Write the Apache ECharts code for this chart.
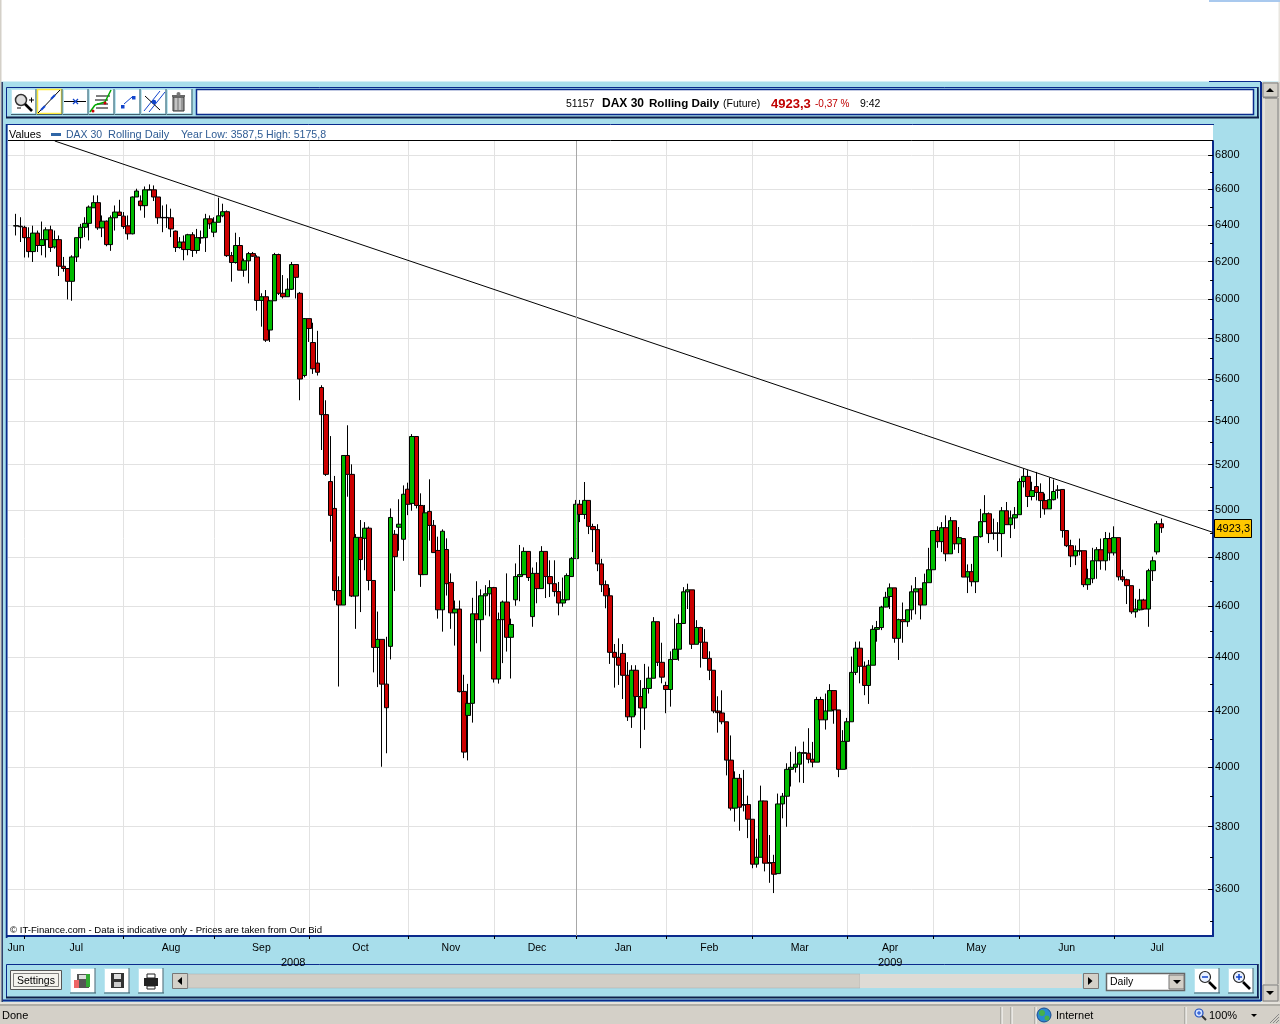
<!DOCTYPE html>
<html><head><meta charset="utf-8"><title>DAX 30 Rolling Daily</title>
<style>html,body{margin:0;padding:0;background:#a8deeb;overflow:hidden}#c{width:1280px;height:1024px}</style>
<script src="https://cdn.jsdelivr.net/npm/echarts@6/dist/echarts.min.js"></script>
</head><body><div id="c"></div>
<script>
// each row: open, close, low, high
const jun2008=[[6394,6396,6342,6462],[6393,6390,6306,6443]];
const jul2008=[[6387,6330,6222,6396],[6330,6254,6222,6387],[6254,6355,6198,6396],[6355,6287,6252,6369],[6287,6319,6234,6419],[6319,6373,6222,6387],[6373,6276,6252,6396],[6279,6319,6270,6369],[6319,6175,6123,6342],[6175,6163,6146,6225],[6163,6095,6000,6163],[6095,6225,5993,6234],[6225,6330,6198,6330],[6330,6387,6270,6406],[6387,6409,6333,6443],[6409,6500,6315,6509],[6496,6525,6496,6566],[6525,6384,6373,6566],[6384,6421,6333,6453],[6421,6292,6283,6425],[6292,6440,6258,6453],[6440,6472,6369,6509],[6472,6453,6453,6541]];
const aug2008=[[6449,6391,6378,6472],[6395,6351,6319,6453],[6351,6557,6348,6560],[6557,6591,6557,6604],[6534,6508,6481,6566],[6508,6598,6440,6617],[6598,6597,6597,6629],[6598,6557,6534,6623],[6557,6440,6406,6557],[6442,6440,6360,6509],[6442,6440,6384,6515],[6440,6378,6333,6491],[6366,6276,6252,6369],[6276,6306,6270,6333],[6306,6265,6207,6342],[6265,6346,6234,6351],[6346,6260,6225,6360],[6260,6330,6243,6378],[6330,6328,6297,6369],[6330,6434,6252,6462],[6434,6406,6378,6453]];
const sep2008=[[6360,6415,6333,6443],[6415,6451,6415,6553],[6451,6474,6443,6519],[6474,6232,6225,6481],[6232,6195,6093,6252],[6195,6287,6189,6357],[6287,6154,6154,6333],[6154,6204,6119,6216],[6204,6243,6084,6252],[6243,6229,6225,6252],[6225,5995,5942,6234],[5995,6014,5860,6032],[6014,5792,5783,6049],[5843,5993,5783,5997],[5993,6238,5993,6247],[6238,6032,6023,6243],[6032,6014,6005,6128],[6014,6053,6014,6111],[6053,6184,6049,6198],[6184,6116,6005,6184],[6032,5600,5498,6039],[5617,5901,5608,5904]];
const oct2008=[[5901,5851,5783,5901],[5780,5650,5625,5880],[5678,5633,5617,5839],[5559,5430,5266,5570],[5430,5156,5149,5498],[5124,4976,4864,5330],[5006,4662,4622,5149],[4662,4604,4290,4720],[4604,5241,4604,5241],[5241,5156,5057,5380],[5156,4640,4636,5201],[4640,4882,4510,4896],[4882,4789,4576,4956],[4878,4921,4745,4947],[4921,4703,4663,4928],[4703,4438,4343,4703],[4438,4469,4288,4578],[4469,4299,4002,4469],[4299,4212,4049,4479],[4442,4967,4392,5006],[4895,4801,4660,4913],[4925,4938,4826,5046],[4874,5068,4784,5107]];
const nov2008=[[5090,5024,4977,5119],[5028,5328,4996,5339],[5328,5019,5006,5328],[5019,4727,4677,5072],[4727,4987,4727,5021],[4993,4933,4868,5134],[4933,4818,4817,4956],[4827,4585,4550,4885],[4585,4908,4499,4916],[4831,4690,4642,4878],[4695,4573,4510,4732],[4573,4588,4445,4622],[4588,4271,4268,4622],[4272,4053,4032,4334],[4184,4228,4024,4300],[4228,4569,4158,4633],[4569,4546,4454,4700],[4546,4641,4422,4667],[4641,4649,4563,4684],[4649,4674,4559,4704]];
const dec2008=[[4674,4318,4305,4677],[4318,4546,4301,4574],[4546,4616,4378,4622],[4616,4477,4422,4732],[4477,4527,4320,4550],[4625,4719,4601,4773],[4719,4727,4619,4850],[4727,4823,4725,4840],[4823,4715,4701,4823],[4558,4732,4518,4756],[4732,4670,4611,4778],[4670,4823,4670,4845],[4823,4719,4632,4823],[4719,4690,4636,4786],[4690,4658,4638,4786],[4658,4612,4563,4697],[4612,4625,4597,4715],[4625,4723,4622,4732],[4719,4793,4718,4800]];
const jan2009=[[4793,5024,4793,5043],[5024,4980,4947,5043],[4980,5041,4960,5122],[5041,4929,4896,5041],[4928,4915,4820,4940],[4915,4771,4741,4938],[4771,4686,4656,4792],[4686,4641,4591,4703],[4641,4419,4375,4673],[4419,4400,4286,4451],[4400,4370,4296,4473],[4415,4332,4244,4451],[4332,4179,4164,4382],[4179,4351,4139,4370],[4351,4253,4184,4370],[4253,4211,4067,4314],[4211,4283,4132,4375],[4283,4321,4264,4365],[4321,4538,4321,4556],[4538,4381,4367,4538],[4381,4325,4302,4456]];
const feb2009=[[4294,4279,4192,4308],[4279,4392,4216,4423],[4392,4431,4392,4550],[4431,4531,4387,4567],[4531,4657,4531,4676],[4657,4665,4588,4690],[4665,4450,4432,4665],[4450,4515,4450,4544],[4515,4458,4361,4518],[4458,4396,4396,4509],[4396,4351,4314,4423],[4351,4200,4192,4351],[4200,4194,4122,4254],[4193,4161,4152,4276],[4161,4025,3972,4161],[4025,3861,3853,4112],[3861,3962,3816,3986],[3962,3864,3786,3977],[3873,3871,3850,3991],[3873,3824,3762,3903]];
const mar2009=[[3824,3678,3665,3824],[3678,3700,3667,3760],[3700,3885,3700,3937],[3885,3681,3655,3885],[3683,3681,3619,3772],[3683,3646,3587,3708],[3648,3875,3648,3910],[3875,3901,3827,3912],[3901,3993,3799,4014],[3993,4000,3934,4054],[4000,4011,3982,4073],[4011,4051,3948,4055],[4051,4049,3946,4090],[4049,4028,4014,4138],[4028,4018,4000,4089],[4018,4242,4018,4252],[4242,4168,4168,4252],[4168,4200,4133,4264],[4200,4275,4200,4299],[4275,4204,4154,4275],[4204,3993,3966,4204],[3993,4091,3993,4131]];
const apr2009=[[4091,4161,3993,4175],[4161,4343,4161,4403],[4343,4435,4333,4460],[4435,4366,4302,4461],[4366,4294,4258,4384],[4294,4370,4226,4390],[4370,4508,4370,4524],[4508,4515,4460,4541],[4515,4596,4505,4601],[4596,4635,4595,4657],[4638,4673,4588,4691],[4673,4473,4456,4673],[4473,4546,4390,4550],[4546,4538,4456,4614],[4538,4585,4518,4585],[4585,4657,4546,4683],[4657,4669,4567,4717],[4669,4604,4547,4673],[4604,4694,4604,4731],[4694,4747,4694,4838]];
const may2009=[[4747,4911,4747,4912],[4911,4864,4838,4929],[4864,4923,4820,4947],[4923,4813,4782,4976],[4813,4953,4813,4969],[4953,4855,4830,4953],[4855,4881,4816,4926],[4877,4717,4717,4877],[4717,4739,4652,4769],[4739,4698,4679,4771],[4698,4885,4652,4887],[4885,4949,4881,5004],[4949,4983,4949,5064],[4983,4898,4858,4989],[4901,4899,4872,4962],[4901,4899,4824,4947],[4898,4996,4799,5012],[4996,4936,4936,5034],[4936,4965,4879,4997],[4965,4979,4918,5012]];
const jun2009=[[4979,5124,4979,5138],[5124,5147,5098,5182],[5147,5058,5012,5175],[5058,5084,5041,5123],[5102,5076,5041,5167],[5076,5040,4965,5116],[5040,5004,4979,5071],[5004,5044,5004,5142],[5044,5080,5041,5133],[5087,5085,5049,5108],[5089,4911,4881,5089],[4911,4847,4841,4911],[4847,4804,4758,4872],[4804,4826,4766,4848],[4826,4824,4806,4877],[4826,4686,4676,4826],[4686,4710,4665,4751],[4710,4784,4692,4838],[4784,4830,4710,4841],[4830,4784,4747,4877],[4784,4877,4744,4905],[4877,4817,4785,4902]];
const jul2009=[[4817,4881,4806,4929],[4881,4718,4703,4881],[4718,4706,4697,4747],[4706,4682,4608,4710],[4682,4577,4569,4682],[4577,4588,4554,4629],[4585,4624,4582,4669],[4624,4588,4585,4629],[4588,4743,4518,4751],[4743,4784,4701,4801],[4821,4940,4810,4952],[4940,4923,4901,4962]];
const months=[jun2008,jul2008,aug2008,sep2008,oct2008,nov2008,dec2008,jan2009,feb2009,mar2009,apr2009,may2009,jun2009,jul2009];
const monthNames=['Jun','Jul','Aug','Sep','Oct','Nov','Dec','Jan','Feb','Mar','Apr','May','Jun','Jul'];
const monthLabelSlots=[2,16,38,59,82,103,123,143,163,184,205,225,246,267];
const priceTicks=[6800,6600,6400,6200,6000,5800,5600,5400,5200,5000,4800,4600,4400,4200,4000,3800,3600];
const minorTicks=[6700,6500,6300,6100,5900,5700,5500,5300,5100,4900,4700,4500,4300,4100,3900,3700,3500];
const trendStart=[11,6883];
const trendEnd=[280,4903];
const cursorSlot=132;
const yMin=3456,yMax=6883;

const LEAD=2,SLOTS=281;
const candles=[];const gridSlots=new Set();
months.forEach((m,i)=>{ if(i>0) gridSlots.add(LEAD+candles.length); m.forEach(r=>candles.push(r)); });
const seriesData=[];
for(let i=0;i<SLOTS;i++){ const c=candles[i-LEAD]; seriesData.push(c?c:'-'); }
const categories=seriesData.map((_,i)=>String(i));
const labelMap={}; monthLabelSlots.forEach((s,i)=>labelMap[s]=monthNames[i]);

const NAVY='#0a2a8c',BEIGE='#d4d0c8',SKY='#a8deeb';
const g=[];let Z=60;
const FONT='"Liberation Sans",Arial,sans-serif';
function R(x,y,w,h,fill,stroke,lw){g.push({type:'rect',silent:true,z:Z,shape:{x,y,width:w,height:h},style:{fill:fill||'transparent',stroke:stroke||null,lineWidth:lw||1}});}
function L(x1,y1,x2,y2,c,lw){g.push({type:'line',silent:true,z:Z,shape:{x1,y1,x2,y2},style:{stroke:c||'#000',lineWidth:lw||1}});}
function C(cx,cy,r,fill,stroke,lw){g.push({type:'circle',silent:true,z:Z,shape:{cx,cy,r},style:{fill:fill||'transparent',stroke:stroke||null,lineWidth:lw||1}});}
function P(points,fill){g.push({type:'polygon',silent:true,z:Z,shape:{points},style:{fill}});}
function T(x,y,text,size,color,opt){opt=opt||{};g.push({type:'text',silent:true,z:Z+1,style:{x,y,text,fill:color||'#000',font:(opt.bold?'bold ':'')+size+'px '+(opt.family||FONT),textAlign:opt.align||'left',textVerticalAlign:'middle',verticalAlign:'middle'}});}

// top white band and window edges
R(0,0,1280,81.5,'#fff');
R(0,0,1.5,82,BEIGE);
R(1209,0,71,2,'#a9c9ee');
R(1278.5,2,1.5,80,'#e8e6e0');
R(1209,81,52,1.5,NAVY);
R(0,82,1.5,922,BEIGE);
R(1.5,82,1.5,921,'#33406a');
// right-hand panel edge and browser scrollbar
R(1260,82,2,919,NAVY);
R(1262,82,18,921,BEIGE);
R(1263,83,15,14,BEIGE,'#808080');L(1263,98,1277,98,'#666',1);
P([[1266,92],[1274,92],[1270,88]],'#000');
L(1264,98,1264,984,'#f4f3ee',1);L(1278,98,1278,984,'#808080',1);
R(1263,985,15,16,BEIGE,'#808080');
P([[1266,991],[1274,991],[1270,995]],'#000');

// chart frame
R(3,82,1257,42,SKY);
R(8,124.5,1205,16,'#fff');
L(7,124.5,1214,124.5,NAVY,1);
L(8,140.5,1213,140.5,'#000',1);
R(5.5,124,2,814,NAVY);
R(3,124,2.5,876,SKY);
// top toolbar
R(6.5,87.5,1251,30,SKY,NAVY,1);
L(6,117.5,1259,117.5,'#10204a',2);L(1258,87,1258,118,'#10204a',1.5);
R(196.5,89.5,1057,25,'#fff',NAVY,1.5);
const bx=[11,37,63,89,115,141,167];
bx.forEach((x,i)=>{R(x+.5,89.5,24,24,'#fff',i===1?'#ffe93a':'#bde6f0',i===1?1.5:1);L(x+25,89,x+25,115,'#41606e',1);L(x,114.5,x+25,114.5,'#41606e',1);});
C(21,100,5.5,'#ddd','#333',1.5);L(25,104,32,111,'#000',2.6);L(29,100,34,100,'#000',1);L(31.5,97.5,31.5,102.5,'#000',1);L(17,108,21,108,'#000',1);
L(38,113,60,90,'#000',1);L(41,110,45,106,'#14c',2);L(51,99,55,95,'#14c',2);
L(64,101.5,86,101.5,'#000',1);L(73,99,78,104,'#14c',1.2);L(78,99,73,104,'#14c',1.2);
L(96,96,110,96,'#000',1);L(95,100,108,100,'#000',1);L(97,104,108,104,'#000',1);L(96,108,108,108,'#000',1);
L(90,112,95,105,'#0a0',1.5);L(95,105,105,102,'#0a0',1.5);L(105,102,111,90,'#0a0',1.5);C(93,111,1.5,'#c00');C(105,103,1.5,'#c00');
R(121,105,3.5,3.5,'#14c');R(132,96,3.5,3.5,'#14c');L(124,104,132,97,'#14c',1);
L(144,111,160,91,'#14c',1);L(149,112,165,92,'#14c',1);L(145,96,160,110,'#000',1);C(154,102,2.2,'#14c');
R(173,97,11,14,'#999','#333',1);R(172,95,13,2,'#666');C(178.5,94,2,'#777');L(176,98,176,110,'#eee',1);L(180,98,180,110,'#eee',1);
// title row
T(566,104,'51157',10.5,'#000');
T(602,104,'DAX 30',12,'#000',{bold:1});
T(649,104,'Rolling Daily',11.6,'#000',{bold:1});
T(723,104,'(Future)',10.5,'#000');
T(771,104,'4923,3',13,'#c00000',{bold:1});
T(815,104,'-0,37 %',10,'#c00000');
T(860,104,'9:42',10.5,'#000');
// header row of the plot
T(9,135,'Values',10.8,'#000');
R(51,133,10,3,'#2f66a6');
T(66,135,'DAX 30',10.5,'#2f5c94');
T(108,135,'Rolling Daily',11,'#2f5c94');
T(181,135,'Year Low: 3587,5 High: 5175,8',10.6,'#2f5c94');
// credit line
T(10,930.5,'\u00a9 IT-Finance.com - Data is indicative only - Prices are taken from Our Bid',9.6,'#000');
// last price tag
R(1214.5,519.5,37,18,'#ffc800','#000',1);
T(1216.5,529,'4923,3',11,'#000');
// year labels (clipped by the toolbar below)
T(281,962.5,'2008',11,'#000');
T(878,962.5,'2009',11,'#000');
// bottom toolbar
R(3,964,1257,36,SKY);
R(6.5,964.5,1251,33,SKY,NAVY,1);
L(6,997.5,1259,997.5,'#10204a',2);L(1258,964,1258,998,'#10204a',1.5);
L(3,1000.5,1261,1000.5,NAVY,2);
R(10.5,970.5,51,19,'#f4f3ee','#555',1);R(13.5,973.5,45,13,'transparent','#333',.6);
T(17,981,'Settings',10.5,'#000');
[70,104,138].forEach(x=>{R(x+.5,968.5,25,24,'#fff','#bde6f0',1);L(x+25,968,x+25,993,'#41606e',1);L(x,993,x+26,993,'#41606e',1);});
R(77,974,12,14,'#555');R(79,975,8,4,'#ddd');R(74,980,5,8,'#e66');R(86,974,4,13,'#3a3');
R(111,973,13,15,'#333');R(114,974,7,5,'#ddd');R(114,982,7,5,'#ccc');
R(144,978,14,8,'#222');R(147,974,8,4,'#fff','#222',1);R(147,986,8,3,'#fff','#222',1);
R(172.5,973.5,15,15,BEIGE,'#777',1);P([[182,977],[182,985],[177.5,981]],'#000');
R(188,974,672,14,'#d2cec6','#aaa',.5);
R(860,974,222,14,'#dedbd5');
R(1083.5,973.5,15,15,BEIGE,'#777',1);P([[1088,977],[1088,985],[1092.5,981]],'#000');
R(1106.5,973.5,78,17,'#fff','#666',1.5);
T(1110,982,'Daily',10.5,'#000');
R(1169,975,15,14,BEIGE,'#777',1);P([[1173,980],[1181,980],[1177,984]],'#000');
[1194,1228].forEach((x,i)=>{R(x+.5,968.5,25,24,'#fff','#bde6f0',1);L(x+25,968,x+25,993,'#41606e',1);L(x,993,x+26,993,'#41606e',1);
 C(x+11,977,5.5,'#e8f0ff','#222',1.2);L(x+15,982,x+22,989,'#000',2.6);L(x+8,977,x+14,977,'#14c',1.5);if(i)L(x+11,974,x+11,980,'#14c',1.5);});
// status bar
R(0,1002,1262,22,BEIGE);R(1262,1003,18,21,BEIGE);
L(0,1003,1280,1003,'#f6f5f0',1);L(0,1005,1280,1005,'#8a8a84',1);
T(2,1015.5,'Done',11,'#000');
[1001,1011,1035,1185].forEach(x=>{L(x,1007,x,1024,'#8a8a84',1);L(x+1,1007,x+1,1024,'#fff',1);});
C(1044,1015,7,'#2a8ad0','#1a4a90',1);C(1042,1013,3,'#46b04a');C(1047,1018,2.5,'#46b04a');
T(1056,1015.5,'Internet',11,'#000');
C(1199,1013,4,'#cfe0ff','#1a4ac0',1.2);L(1202,1016,1206,1020,'#333',2);L(1197,1013,1201,1013,'#14c',1);L(1199,1011,1199,1015,'#14c',1);
T(1209,1015.5,'100%',11,'#000');
P([[1251,1014],[1257,1014],[1254,1017]],'#000');
L(1270,1023,1279,1014,'#888',1);L(1273,1023,1279,1017,'#888',1);L(1276,1023,1279,1020,'#888',1);

const chart=echarts.init(document.getElementById('c'),null,{renderer:'canvas'});
const logAxisBase={type:'log',min:yMin,max:yMax,position:'right',scale:true};
chart.setOption({
 animation:false,backgroundColor:SKY,
 grid:{left:7.39,top:141,width:1205.68,height:795,show:true,backgroundColor:'#fff',borderWidth:0,containLabel:false},
 xAxis:{type:'category',data:categories,boundaryGap:false,
  axisLine:{show:true,onZero:false,lineStyle:{color:NAVY,width:2}},
  axisTick:{show:true,length:3,interval:i=>gridSlots.has(i),lineStyle:{color:'#000'}},
  axisLabel:{show:true,interval:i=>labelMap[i]!==undefined,formatter:(v,i)=>labelMap[Number(v)]||'',color:'#000',fontFamily:FONT,fontSize:10.5,margin:7,hideOverlap:false,showMinLabel:true,showMaxLabel:true},
  splitLine:{show:true,interval:i=>gridSlots.has(i),lineStyle:{color:'#e2e2e2',width:1}}},
 yAxis:[
  Object.assign({},logAxisBase,{
   axisLine:{show:true,lineStyle:{color:NAVY,width:2}},
   axisTick:{show:true,inside:true,length:5,customValues:priceTicks,lineStyle:{color:'#000'}},
   axisLabel:{show:true,customValues:priceTicks,formatter:v=>String(Math.round(v)),color:'#000',fontFamily:FONT,fontSize:11,margin:2,align:'left',padding:[4,0,0,0],hideOverlap:false},
   splitLine:{show:true,lineStyle:{color:'#e2e2e2',width:1}}}),
  Object.assign({},logAxisBase,{
   axisLine:{show:false},splitLine:{show:false},axisLabel:{show:false},
   axisTick:{show:true,inside:true,length:3,customValues:minorTicks,lineStyle:{color:'#000'}}})
 ],
 graphic:{elements:g},
 series:[
  {type:'line',z:1,data:[],silent:true,symbol:'none',
   markLine:{silent:true,symbol:'none',animation:false,label:{show:false},lineStyle:{color:'#a8a8a8',width:1,type:'solid'},data:[{xAxis:cursorSlot}]}},
  {type:'candlestick',z:2,data:seriesData,barWidth:5,silent:true,clip:true,
   itemStyle:{color:'#00bb00',color0:'#cc0000',borderColor:'#000',borderColor0:'#000',borderColorDoji:'#000',borderWidth:1}},
  {type:'line',z:3,silent:true,symbol:'none',data:[trendStart,trendEnd],lineStyle:{color:'#000',width:1},clip:true}
 ]
});
</script></body></html>
